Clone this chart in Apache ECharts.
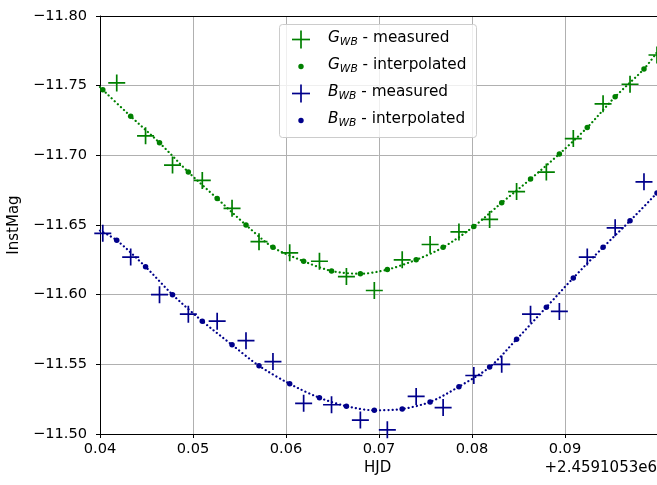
<!DOCTYPE html>
<html>
<head>
<meta charset="utf-8">
<script src="https://cdn.jsdelivr.net/npm/echarts@6/dist/echarts.min.js"></script>
<style>
html,body{margin:0;padding:0;background:#fff;}
#c{width:657px;height:485px;}
</style>
</head>
<body>
<div id="c"></div>
<script>
// ---- data (HJD offsets from 2.4591053e6, instrumental magnitudes) ----
const xOffsetText = '+2.4591053e6';
const xTickLabels = ['0.04', '0.05', '0.06', '0.07', '0.08', '0.09'];
const yTickLabels = ['\u221211.80', '\u221211.75', '\u221211.70', '\u221211.65', '\u221211.60', '\u221211.55', '\u221211.50'];

const gMeasT = [0.0418, 0.0449, 0.0478, 0.0510, 0.0542, 0.0571, 0.0604, 0.0636, 0.0665, 0.0695,
                0.0725, 0.0755, 0.0786, 0.0819, 0.0848, 0.0880, 0.0909, 0.0941, 0.0970, 0.0999];
const gMeas  = [-11.752, -11.714, -11.693, -11.682, -11.662, -11.638, -11.630, -11.624, -11.613, -11.603,
                -11.625, -11.636, -11.645, -11.654, -11.674, -11.688, -11.712, -11.737, -11.751, -11.772];

const bMeasT = [0.0403, 0.0433, 0.0464, 0.0495, 0.0526, 0.0557, 0.0586, 0.0619, 0.0649, 0.0680,
                0.0709, 0.0740, 0.0769, 0.0802, 0.0832, 0.0863, 0.0894, 0.0924, 0.0954, 0.0985];
const bMeas  = [-11.644, -11.627, -11.600, -11.586, -11.581, -11.567, -11.552, -11.522, -11.521, -11.510,
                -11.503, -11.527, -11.519, -11.542, -11.550, -11.586, -11.588, -11.627, -11.648, -11.681];

// G interpolated at the B measurement times
const gInterpT = bMeasT;
const gInterp  = [-11.747, -11.728, -11.709, -11.688, -11.669, -11.650, -11.634, -11.624, -11.617, -11.615,
                  -11.618, -11.625, -11.634, -11.649, -11.666, -11.683, -11.701, -11.720, -11.742, -11.762];
// B interpolated at the G measurement times
const bInterpT = gMeasT;
const bInterp  = [-11.639, -11.620, -11.600, -11.581, -11.564, -11.549, -11.536, -11.526, -11.520, -11.517,
                  -11.518, -11.523, -11.534, -11.548, -11.568, -11.591, -11.612, -11.634, -11.653, -11.673];

// ends of the dotted interpolation curves at the plot edges
const gCurveStart = [0.0400, -11.749];
const gCurveEnd   = [0.0999, -11.774];
const bCurveStart = [0.0400, -11.646];

// ---- styling ----
const GREEN = '#008000';
const BLUE = '#00008b';
const FONT = 'DejaVu Sans';
const PLUS = 'path://M-0.1,-1 L0.1,-1 L0.1,-0.1 L1,-0.1 L1,0.1 L0.1,0.1 L0.1,1 L-0.1,1 L-0.1,0.1 L-1,0.1 L-1,-0.1 L-0.1,-0.1 Z';

const zip = (a, b) => a.map((v, i) => [v, b[i]]);

const gCurve = [gCurveStart].concat(zip(gInterpT, gInterp), [gCurveEnd]);
const bCurve = [bCurveStart].concat(zip(bInterpT, bInterp));

const chart = echarts.init(document.getElementById('c'), null, {renderer: 'canvas'});

const xMin = 0.04, xMax = 0.0999;
const yMin = -11.80, yMax = -11.50;

function xFmt(v) {
  const i = Math.round((v - xMin) / 0.01);
  if (Math.abs(v - (xMin + i * 0.01)) > 1e-6) return '';
  return xTickLabels[i] || '';
}
function yFmt(v) {
  const i = Math.round((v - yMin) / 0.05);
  return yTickLabels[i] || '';
}

function legendRow(y, kind, color, letter, text) {
  const items = [];
  if (kind === 'plus') {
    items.push({type: 'line', shape: {x1: 292, y1: y, x2: 310, y2: y}, style: {stroke: color, lineWidth: 1.7}});
    items.push({type: 'line', shape: {x1: 301, y1: y - 9, x2: 301, y2: y + 9}, style: {stroke: color, lineWidth: 1.7}});
  } else {
    items.push({type: 'circle', shape: {cx: 301, cy: y, r: 2.7}, style: {fill: color}});
  }
  items.push({
    type: 'text', left: 328, top: y - 9,
    style: {
      text: '{i|' + letter + '}{s|WB}{t| - ' + text + '}',
      rich: {
        i: {fontFamily: FONT, fontSize: 15.3, fontStyle: 'italic', fill: '#000', lineHeight: 22, verticalAlign: 'middle'},
        s: {fontFamily: FONT, fontSize: 10.7, fontStyle: 'italic', fill: '#000', lineHeight: 22, verticalAlign: 'bottom', padding: [0, 0, 1, 0]},
        t: {fontFamily: FONT, fontSize: 15.3, fill: '#000', lineHeight: 22, verticalAlign: 'middle'}
      }
    }
  });
  return items;
}

const graphics = [
  {type: 'rect', shape: {x: 279.5, y: 24.5, width: 197, height: 113, r: 3},
   style: {fill: 'rgba(255,255,255,0.8)', stroke: '#cccccc', lineWidth: 1}, z: 100}
].concat(
  legendRow(39.5, 'plus', GREEN, 'G', 'measured'),
  legendRow(66.5, 'dot', GREEN, 'G', 'interpolated'),
  legendRow(93.5, 'plus', BLUE, 'B', 'measured'),
  legendRow(120.5, 'dot', BLUE, 'B', 'interpolated'),
  [
    {type: 'text', right: 0, top: 461, style: {text: xOffsetText, fontFamily: FONT, fontSize: 15, fill: '#000'}},
    {type: 'text', left: 364, top: 461, style: {text: 'HJD', fontFamily: FONT, fontSize: 15, fill: '#000'}},
    {type: 'text', x: 7, y: 225, rotation: Math.PI / 2, style: {text: 'InstMag', fontFamily: FONT, fontSize: 15, fill: '#000', align: 'center', verticalAlign: 'top'}}
  ]
).map(g => Object.assign({z: 100}, g));

const option = {
  animation: false,
  backgroundColor: '#fff',
  grid: {left: 100, top: 16, right: 0, bottom: 51, show: false},
  xAxis: [{
    type: 'value', min: xMin, max: xMax, interval: 0.01, position: 'bottom',
    axisLine: {show: true, onZero: false, lineStyle: {color: '#000', width: 1}},
    axisTick: {show: true, length: 4, lineStyle: {color: '#000', width: 1}},
    axisLabel: {formatter: xFmt, fontFamily: FONT, fontSize: 14.6, color: '#000', margin: 8, showMaxLabel: false},
    splitLine: {show: true, lineStyle: {color: '#b0b0b0', width: 1}}
  }, {
    type: 'value', min: xMin, max: xMax, position: 'top',
    axisLine: {show: true, onZero: false, lineStyle: {color: '#000', width: 1}},
    axisTick: {show: false}, axisLabel: {show: false}, splitLine: {show: false}
  }],
  yAxis: {
    type: 'value', min: yMin, max: yMax, interval: 0.05, inverse: true,
    axisLine: {show: true, onZero: false, lineStyle: {color: '#000', width: 1}},
    axisTick: {show: true, length: 4, lineStyle: {color: '#000', width: 1}},
    axisLabel: {formatter: yFmt, fontFamily: FONT, fontSize: 14.6, color: '#000', margin: 13},
    splitLine: {show: true, lineStyle: {color: '#b0b0b0', width: 1}}
  },
  graphic: graphics,
  series: [
    {type: 'line', name: 'G curve', data: gCurve, smooth: 0.3, showSymbol: false, symbol: 'none', clip: true,
     lineStyle: {color: GREEN, width: 2.2, type: [0.1, 4], cap: 'round'}, z: 3},
    {type: 'scatter', name: 'G measured', data: zip(gMeasT, gMeas), symbol: PLUS, symbolSize: 17, clip: false,
     itemStyle: {color: GREEN, opacity: 1}, z: 4},
    {type: 'scatter', name: 'G interpolated', data: zip(gInterpT, gInterp), symbol: 'circle', symbolSize: 5.5, clip: false,
     itemStyle: {color: GREEN, opacity: 1}, z: 4},
    {type: 'line', name: 'B curve', data: bCurve, smooth: 0.3, showSymbol: false, symbol: 'none', clip: true,
     lineStyle: {color: BLUE, width: 2.2, type: [0.1, 4], cap: 'round'}, z: 3},
    {type: 'scatter', name: 'B measured', data: zip(bMeasT, bMeas), symbol: PLUS, symbolSize: 17, clip: false,
     itemStyle: {color: BLUE, opacity: 1}, z: 4},
    {type: 'scatter', name: 'B interpolated', data: zip(bInterpT, bInterp), symbol: 'circle', symbolSize: 5.5, clip: false,
     itemStyle: {color: BLUE, opacity: 1}, z: 4}
  ]
};
chart.setOption(option);
</script>
</body>
</html>
